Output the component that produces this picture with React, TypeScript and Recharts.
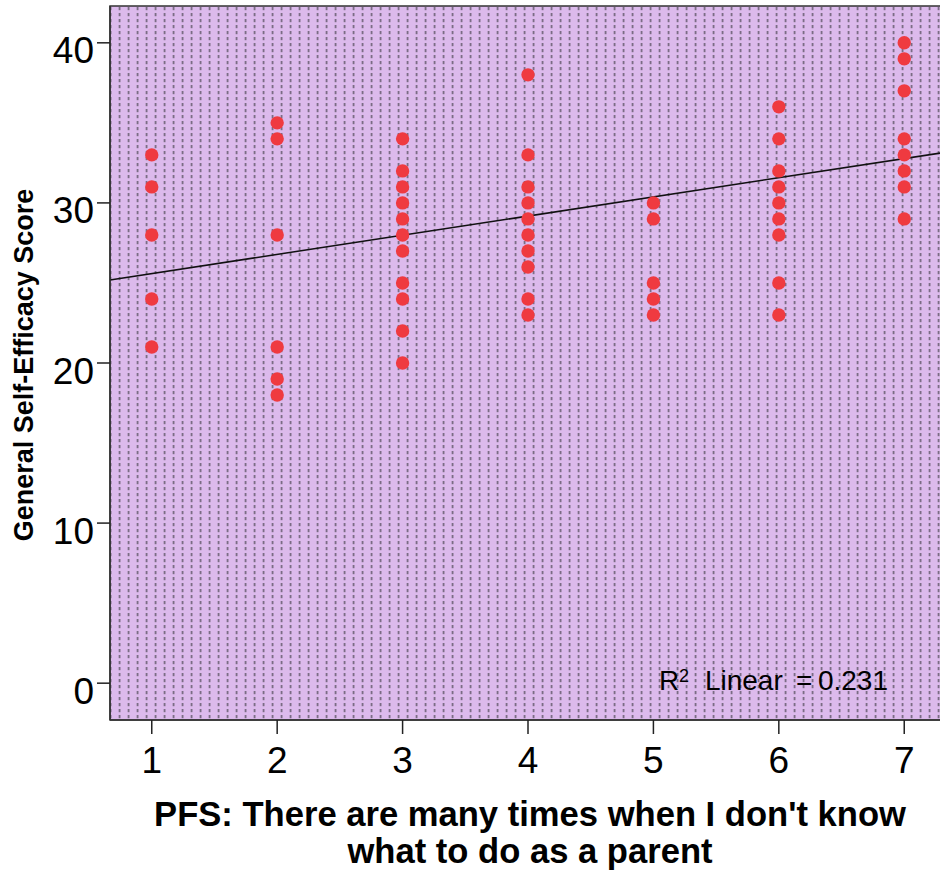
import React from 'react';
import {
  ScatterChart,
  Scatter,
  XAxis,
  YAxis,
  ReferenceArea,
  ReferenceLine,
  ReferenceDot,
} from 'recharts';

// ---- data ----
const pfsLevels = [1, 2, 3, 4, 5, 6, 7];
const scoresAt1 = [33, 31, 28, 24, 21];
const scoresAt2 = [35, 34, 28, 21, 19, 18];
const scoresAt3 = [34, 32, 31, 30, 29, 28, 27, 25, 24, 22, 20];
const scoresAt4 = [38, 33, 31, 30, 29, 28, 27, 26, 24, 23];
const scoresAt5 = [30, 29, 25, 24, 23];
const scoresAt6 = [36, 34, 32, 31, 30, 29, 28, 25, 23];
const scoresAt7 = [40, 39, 37, 34, 33, 32, 31, 29];
const scoreColumns = [scoresAt1, scoresAt2, scoresAt3, scoresAt4, scoresAt5, scoresAt6, scoresAt7];

const xTicks = [1, 2, 3, 4, 5, 6, 7];
const yTicks = [0, 10, 20, 30, 40];
const xDomain: [number, number] = [0.667, 7.333];
const yDomain: [number, number] = [-2.3, 42.3];

const fitIntercept = 24.39;
const fitSlope = 1.197;
const rSquaredText = '0.231';
const xTitleLines = ["PFS: There are many times when I don't know", 'what to do as a parent'];
const yTitle = 'General Self-Efficacy Score';

const points = pfsLevels.flatMap((lvl, i) => scoreColumns[i].map((s) => ({ x: lvl, y: s })));

const FONT = "'Liberation Sans', Arial, Helvetica, sans-serif";

const YTick = (props: any) => {
  const { x, y, payload } = props;
  return (
    <text x={x} y={y + 20.5} textAnchor="end" fontSize={37} fill="#000" fontFamily={FONT}>
      {payload.value}
    </text>
  );
};

const XTick = (props: any) => {
  const { x, y, payload } = props;
  return (
    <text x={x} y={y + 37} textAnchor="middle" fontSize={37} fill="#000" fontFamily={FONT}>
      {payload.value}
    </text>
  );
};

const XTitle = () => (
  <g fontSize={34.6} fontWeight="bold" fill="#000" fontFamily={FONT}>
    <text x={530} y={826} textAnchor="middle">{xTitleLines[0]}</text>
    <text x={530} y={863} textAnchor="middle">{xTitleLines[1]}</text>
  </g>
);

const YTitle = () => (
  <text
    x={32.5}
    y={365}
    transform="rotate(-90, 32.5, 365)"
    fontSize={27}
    fontWeight="bold"
    fill="#000"
    fontFamily={FONT}
    textAnchor="middle"
  >
    {yTitle}
  </text>
);

const RLabel = (props: any) => {
  const vb = props.viewBox || {};
  const x0 = vb.x ?? 0;
  const y0 = vb.y ?? 0;
  return (
    <text fontFamily={FONT} fill="#000" fontSize={28}>
      <tspan x={x0} y={y0}>R</tspan>
      <tspan x={x0 + 20} y={y0 - 8} fontSize={18}>2</tspan>
      <tspan x={x0 + 46} y={y0}>Linear</tspan>
      <tspan x={x0 + 137} y={y0}>=</tspan>
      <tspan x={x0 + 159} y={y0}>{rSquaredText}</tspan>
    </text>
  );
};

const Dot = (props: any) => {
  const { cx, cy } = props;
  if (cx == null || cy == null) return null;
  return <circle cx={cx} cy={cy} r={6.7} fill="#ef3a40" />;
};

export default function App() {
  return (
    <div
      style={{
        position: 'fixed',
        left: 0,
        top: 0,
        width: 940,
        height: 870,
        overflow: 'hidden',
        background: '#fff',
      }}
    >
      <ScatterChart width={946} height={870} margin={{ top: 6, right: 0, bottom: 0, left: 0 }}>
        <defs>
          <pattern id="spssDots" patternUnits="userSpaceOnUse" width={9} height={6} x={1.7} y={0}>
            <rect x={0} y={0} width={9} height={6} fill="#dcbaec" />
            <rect x={0} y={1} width={1.6} height={3.2} fill="#6e6277" />
          </pattern>
        </defs>
        <ReferenceArea
          x1={xDomain[0]}
          x2={xDomain[1]}
          y1={yDomain[0]}
          y2={yDomain[1]}
          fill="url(#spssDots)"
          fillOpacity={1}
          stroke="#333"
          strokeWidth={1.5}
          ifOverflow="visible"
        />
        <XAxis
          type="number"
          dataKey="x"
          domain={xDomain}
          ticks={xTicks}
          allowDataOverflow
          height={150}
          tickSize={14}
          tickMargin={2}
          tick={<XTick />}
          axisLine={{ stroke: '#333', strokeWidth: 1.5 }}
          tickLine={{ stroke: '#222', strokeWidth: 1.5 }}
          label={<XTitle />}
        />
        <YAxis
          type="number"
          dataKey="y"
          domain={yDomain}
          ticks={yTicks}
          allowDataOverflow
          width={110}
          tickSize={13}
          tickMargin={3}
          tick={<YTick />}
          axisLine={{ stroke: '#333', strokeWidth: 1.5 }}
          tickLine={{ stroke: '#222', strokeWidth: 1.5 }}
          label={<YTitle />}
        />
        <ReferenceLine
          segment={[
            { x: xDomain[0], y: fitIntercept + fitSlope * xDomain[0] },
            { x: xDomain[1], y: fitIntercept + fitSlope * xDomain[1] },
          ]}
          stroke="#111"
          strokeWidth={1.5}
          ifOverflow="visible"
        />
        <Scatter data={points} shape={<Dot />} isAnimationActive={false} />
        <ReferenceDot x={5.044} y={-0.42} r={0} stroke="none" fill="none" label={<RLabel />} />
      </ScatterChart>
    </div>
  );
}
